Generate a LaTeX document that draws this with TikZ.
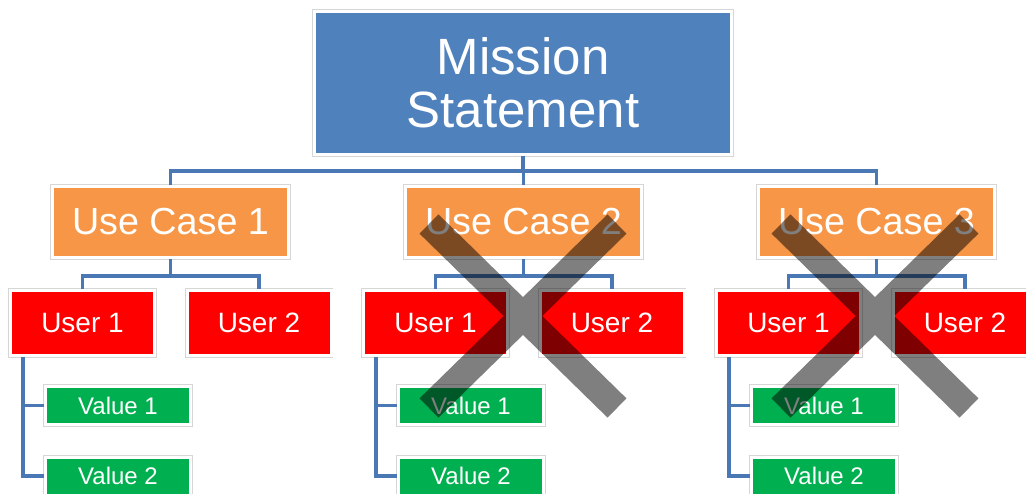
\documentclass[tikz,border=0pt]{standalone}
\usepackage{fontspec}
\setmainfont{Liberation Sans}
\usetikzlibrary{calc}
\definecolor{msblue}{HTML}{4F81BD}
\definecolor{ucorange}{HTML}{F79646}
\definecolor{userred}{HTML}{FF0000}
\definecolor{valgreen}{HTML}{00B050}
\definecolor{connblue}{HTML}{4A78B5}
\begin{document}
\begin{tikzpicture}[x=1pt,y=-1pt,
  box/.style={draw=white, line width=3pt, inner sep=0pt, text=white,
    preaction={draw=black!16, line width=4.2pt}},
  missionbox/.style={box, fill=msblue, minimum width=417pt, minimum height=143pt,
    align=center, font=\fontsize{51}{53}\selectfont},
  ucbox/.style={box, fill=ucorange, minimum width=236pt, minimum height=71pt,
    font=\fontsize{37.7}{40}\selectfont},
  userbox/.style={box, fill=userred, minimum width=144pt, minimum height=65pt,
    font=\fontsize{28}{30}\selectfont},
  valbox/.style={box, fill=valgreen, minimum width=145pt, minimum height=38pt,
    font=\fontsize{24}{26}\selectfont},
  conn/.style={draw=connblue, line width=3.5pt},
  xmark/.style={draw=black, draw opacity=0.5, line width=27pt, line cap=butt}]
\useasboundingbox (0,0) rectangle (1026,494);

\node[missionbox] (ms) at (523,83) {Mission\\Statement};
\coordinate (bar) at (523,171);

\foreach \i in {1,2,3} {
  \pgfmathsetmacro{\off}{353*(\i-1)}
  \node[ucbox] (uc\i) at (170.5+\off,222) {Use Case \i};
  \node[userbox] (ua\i) at (82.5+\off,323) {User 1};
  \node[userbox] (ub\i) at (259+\off,323) {User 2};
  \node[valbox] (va\i) at (118+\off,405.5) {Value 1};
  \node[valbox] (vb\i) at (118+\off,476) {Value 2};
  \coordinate (ubar\i) at (170.5+\off,276);
  \coordinate (vt\i) at (23+\off,354);
  \draw[conn] (uc\i.south) -- (ubar\i);
  \draw[conn] (ua\i.north) -- (ua\i.north |- ubar\i) -- (ub\i.north |- ubar\i) -- (ub\i.north);
  \draw[conn] (vt\i |- ua\i.south) |- (va\i.west);
  \draw[conn] (vt\i |- ua\i.south) |- (vb\i.west);
}

\draw[conn] (ms.south) -- (ms.south |- bar);
\draw[conn] (uc1.north) -- (uc1.north |- bar) -- (uc3.north |- bar) -- (uc3.north);
\draw[conn] (uc2.north) -- (uc2.north |- bar);

\coordinate (x2) at (523,316);
\coordinate (x3) at (875,316);
\draw[xmark] ($(x2)+(-94,-92)$) -- ($(x2)+(94,92)$)
             ($(x2)+(-94,92)$) -- ($(x2)+(94,-92)$);
\draw[xmark] ($(x3)+(-94,-92)$) -- ($(x3)+(94,92)$)
             ($(x3)+(-94,92)$) -- ($(x3)+(94,-92)$);
\end{tikzpicture}
\end{document}
